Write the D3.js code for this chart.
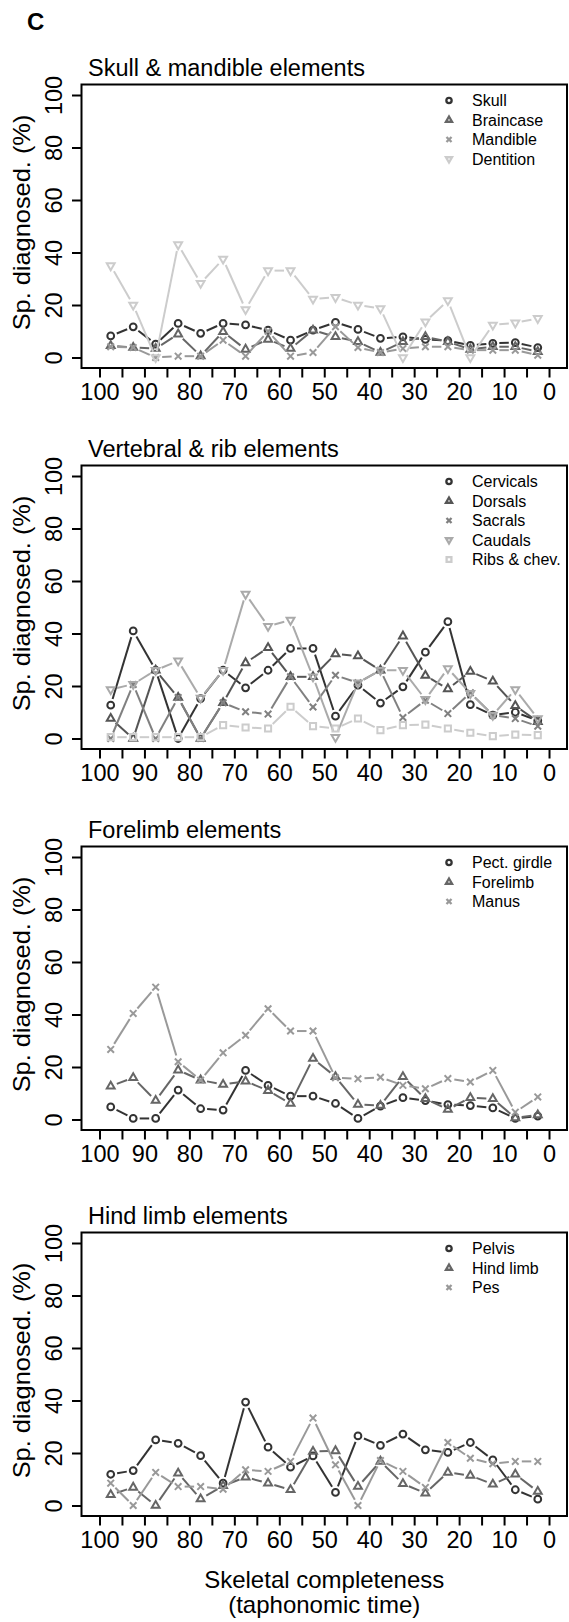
<!DOCTYPE html>
<html>
<head>
<meta charset="utf-8">
<script src="https://cdn.jsdelivr.net/npm/d3@7"></script>
<style>
  body { margin: 0; background: #fff; }
  svg { display: block; font-family: Arial, "Liberation Sans", Helvetica, sans-serif; }
</style>
</head>
<body>
<div id="chart"></div>
<script>
// bin midpoints of skeletal completeness (%)
const bins = [97.5, 92.5, 87.5, 82.5, 77.5, 72.5, 67.5, 62.5, 57.5, 52.5, 47.5, 42.5, 37.5, 32.5, 27.5, 22.5, 17.5, 12.5, 7.5, 2.5];
const xTicks = [100, 95, 90, 85, 80, 75, 70, 65, 60, 55, 50, 45, 40, 35, 30, 25, 20, 15, 10, 5, 0];
const yTicks = [0, 20, 40, 60, 80, 100];

// Skull & mandible elements
const skull     = [8.2, 11.7, 5.1, 13, 9.2, 13, 12.4, 10.4, 6.6, 10.4, 13.4, 10.7, 7.3, 7.9, 6.9, 6.4, 4.6, 5.4, 5.7, 3.8];
const braincase = [4.5, 3.8, 3.4, 8.9, 0.6, 9.8, 3.1, 6.9, 3.4, 10.4, 7.9, 6, 1.9, 6, 7.9, 6, 3.1, 4.1, 4.1, 2.2];
const mandible  = [4.1, 3.8, 0, 0.5, 0.5, 6.6, 0.5, 10, 0.5, 1.9, 11.7, 3.8, 1.9, 3.4, 4.1, 4.1, 2.8, 2.8, 2.8, 0.9];
const dentition = [35, 20, 0, 43, 28.3, 37.5, 18.3, 33.1, 33.1, 22.3, 22.9, 20, 18.7, 0, 13.6, 21.7, 0, 12.4, 13.2, 14.9];

// Vertebral & rib elements
const cervicals = [12.7, 41, 26, 0, 15.2, 26, 19.3, 26, 34.3, 34.3, 8.5, 20.3, 13.5, 19.7, 32.9, 44.5, 12.9, 8.9, 10, 6.8];
const dorsals   = [7.6, 0, 26, 15.6, 0, 13.6, 28.8, 34.6, 23.5, 23.5, 32.2, 31.4, 26, 39, 24, 18.9, 25.5, 21.8, 12.5, 6.4];
const sacrals   = [0, 20.6, 0, 15.6, 0, 13.6, 10.2, 9.3, 23.5, 12, 24.1, 21.2, 26, 8, 14.6, 9.5, 17.4, 8.9, 7.6, 4.7];
const caudals   = [18.7, 20.7, 26, 29.6, 15.4, 26, 55, 42.8, 45.1, 23.5, 0.5, 21.2, 26, 26, 14.9, 26.7, 17.2, 8.9, 18.7, 7.6];
const ribs      = [0.5, 0.5, 0.5, 0.5, 0.5, 5.1, 4.2, 3.8, 12.1, 4.7, 3.8, 7.6, 3.2, 5.1, 5.3, 3.8, 2.2, 0.9, 1.5, 1.3];

// Forelimb elements
const pectGirdle = [4.8, 0.4, 0.4, 11.2, 4.1, 3.6, 18.7, 13, 8.9, 8.9, 6.1, 0.4, 5.1, 8.3, 7.2, 5.7, 5.3, 4.4, 0.4, 1.3];
const forelimb   = [12.7, 15.9, 7.2, 18.8, 15, 13.3, 14.6, 11, 6.1, 23.2, 16.3, 5.7, 5.3, 16.3, 7.9, 3.8, 8.3, 7.9, 0.6, 1.7];
const manus      = [26.7, 40.4, 50.4, 22, 15, 25.4, 32.1, 42.2, 33.7, 33.7, 15.9, 15.5, 16.1, 13, 11.7, 15.6, 14.3, 18.7, 2.8, 8.6];

// Hind limb elements
const pelvis   = [11.9, 13.3, 25, 23.7, 19, 8.5, 39.4, 22.2, 14.6, 18.9, 5, 26.5, 22.9, 27.2, 21.2, 20.2, 24, 17.4, 6, 2.4];
const hindLimb = [4.1, 6.9, 0, 12.3, 2.5, 7.5, 10.8, 8.5, 6, 20.6, 20.8, 7.2, 16.8, 8.3, 4.7, 12.6, 11.4, 8.1, 11.9, 5.3];
const pes      = [8.5, 0, 12.6, 7.2, 7.2, 6.2, 13.6, 13, 16.8, 33.3, 15.5, 0, 17.1, 13, 6.9, 24, 18, 15.9, 16.8, 16.8];

const panels = [
  { title: "Skull & mandible elements",
    names: ["Skull", "Braincase", "Mandible", "Dentition"],
    values: [skull, braincase, mandible, dentition],
    shapes: ["circle", "triangle", "times", "down"] },
  { title: "Vertebral & rib elements",
    names: ["Cervicals", "Dorsals", "Sacrals", "Caudals", "Ribs & chev."],
    values: [cervicals, dorsals, sacrals, caudals, ribs],
    shapes: ["circle", "triangle", "times", "down", "square"] },
  { title: "Forelimb elements",
    names: ["Pect. girdle", "Forelimb", "Manus"],
    values: [pectGirdle, forelimb, manus],
    shapes: ["circle", "triangle", "times"] },
  { title: "Hind limb elements",
    names: ["Pelvis", "Hind limb", "Pes"],
    values: [pelvis, hindLimb, pes],
    shapes: ["circle", "triangle", "times"] }
];

const greys = {
  3: ["#333333", "#666666", "#999999"],
  4: ["#333333", "#666666", "#999999", "#cccccc"],
  5: ["#333333", "#555555", "#808080", "#aaaaaa", "#cccccc"]
};

const W = 569, H = 1622;
const boxLeft = 81.5, boxRight = 567, boxH = 283.5;
const boxTops = [84.5, 465.5, 846.5, 1232.5];
const gap = 6.5; // gap around points (type = "b")
const fontAxis = 23.5;

const symbolType = {
  circle: d3.symbolCircle, triangle: d3.symbolTriangle2, down: d3.symbolTriangle2,
  times: d3.symbolTimes, square: d3.symbolSquare2
};
const symbolSize = { circle: 36, triangle: 44, down: 44, times: 30, square: 48 };

const svg = d3.select("#chart").append("svg")
  .attr("width", W).attr("height", H)
  .attr("viewBox", `0 0 ${W} ${H}`);

svg.append("text")
  .attr("x", 27).attr("y", 30)
  .attr("font-size", 24).attr("font-weight", "bold")
  .text("C");

const x = d3.scaleLinear().domain([104, -4]).range([boxLeft, boxRight]);

function marker(g, shape, px, py, color, scale, sw) {
  g.append("path")
    .attr("d", d3.symbol().type(symbolType[shape]).size(symbolSize[shape] * scale * scale)())
    .attr("transform", `translate(${px},${py})` + (shape === "down" ? " rotate(180)" : ""))
    .attr("fill", "none")
    .attr("stroke", color)
    .attr("stroke-width", sw);
}

panels.forEach((p, pi) => {
  const top = boxTops[pi];
  const bottom = top + boxH;
  const y = d3.scaleLinear().domain([-4, 104]).range([bottom, top]);
  const g = svg.append("g");
  const colors = greys[p.names.length];

  // title
  g.append("text")
    .attr("x", 88).attr("y", top - 8.5)
    .attr("font-size", 23.5)
    .text(p.title);

  // series, type = "b"
  p.values.forEach((vals, si) => {
    const color = colors[si];
    const pts = bins.map((b, i) => [x(b), y(vals[i])]);
    const sg = g.append("g");
    for (let i = 0; i < pts.length - 1; i++) {
      const [x0, y0] = pts[i], [x1, y1] = pts[i + 1];
      const len = Math.hypot(x1 - x0, y1 - y0);
      if (len <= 2 * gap) continue;
      const ux = (x1 - x0) / len, uy = (y1 - y0) / len;
      sg.append("line")
        .attr("x1", x0 + ux * gap).attr("y1", y0 + uy * gap)
        .attr("x2", x1 - ux * gap).attr("y2", y1 - uy * gap)
        .attr("stroke", color).attr("stroke-width", 2);
    }
    pts.forEach(([px, py]) => marker(sg, p.shapes[si], px, py, color, 1, 2));
  });

  // box
  g.append("rect")
    .attr("x", boxLeft).attr("y", top)
    .attr("width", boxRight - boxLeft).attr("height", boxH)
    .attr("fill", "none").attr("stroke", "#000").attr("stroke-width", 2);

  // x axis
  const xa = g.append("g")
    .attr("transform", `translate(0,${bottom})`)
    .call(d3.axisBottom(x).tickValues(xTicks).tickSize(9.5).tickPadding(6)
      .tickFormat(d => d % 10 === 0 ? d : ""));
  xa.select(".domain").remove();
  xa.selectAll(".tick line").attr("stroke-width", 2);
  xa.selectAll("text").attr("font-size", fontAxis).attr("fill", "#000")
    .attr("font-family", "Arial, 'Liberation Sans', sans-serif");

  // y axis
  const ya = g.append("g")
    .attr("transform", `translate(${boxLeft},0)`)
    .call(d3.axisLeft(y).tickValues(yTicks).tickSize(9.5));
  ya.select(".domain").remove();
  ya.selectAll(".tick line").attr("stroke-width", 2);
  ya.selectAll("text")
    .attr("x", null).attr("dy", null)
    .attr("text-anchor", "middle")
    .attr("transform", "translate(-19.5,0) rotate(-90)")
    .attr("font-size", fontAxis).attr("fill", "#000")
    .attr("font-family", "Arial, 'Liberation Sans', sans-serif");

  // y title
  g.append("text")
    .attr("transform", `translate(30,${top + 138}) scale(1,1.08) rotate(-90)`)
    .attr("text-anchor", "middle")
    .attr("font-size", fontAxis)
    .text("Sp. diagnosed. (%)");

  // legend
  const lg = g.append("g");
  p.names.forEach((name, si) => {
    const ly = top + 16 + si * 19.5;
    marker(lg, p.shapes[si], 449, ly, colors[si], 0.78, 2.3);
    lg.append("text")
      .attr("x", 472).attr("y", ly).attr("dy", "0.35em")
      .attr("font-size", 16)
      .text(name);
  });
});

// x title
const cx = (boxLeft + boxRight) / 2;
svg.append("text").attr("x", cx).attr("y", 1580).attr("dy", "0.35em")
  .attr("text-anchor", "middle").attr("font-size", 24)
  .text("Skeletal completeness");
svg.append("text").attr("x", cx).attr("y", 1605).attr("dy", "0.35em")
  .attr("text-anchor", "middle").attr("font-size", 24)
  .text("(taphonomic time)");
</script>
</body>
</html>
